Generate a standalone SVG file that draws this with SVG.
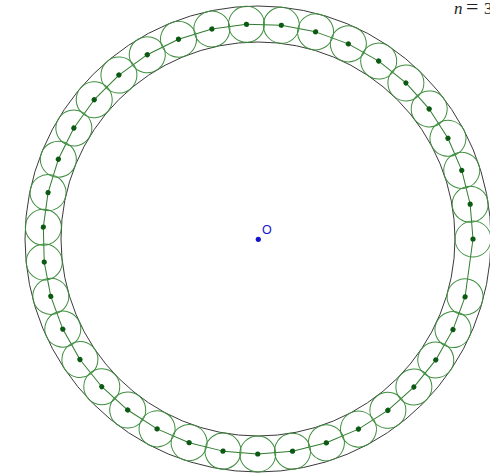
<svg xmlns="http://www.w3.org/2000/svg" width="490" height="474" viewBox="0 0 490 474">
<style>
.bound{fill:none;stroke:#3a3a3a;stroke-width:1}
.ring{fill:none;stroke:#3f8f3f;stroke-width:1}
.dot{fill:#0b5a12;stroke:none}
.edge{stroke:#2f7a2f;stroke-width:1;fill:none}
.lbl{font-family:"Liberation Serif",serif;font-size:17px;fill:#222}
</style>
<rect width="490" height="474" fill="#ffffff"/>
<g id="boundaries">
<circle class="bound" cx="258" cy="239" r="233"/>
<circle class="bound" cx="258" cy="239" r="197"/>
</g>
<g id="connectors">
<line class="edge" x1="473" y1="239" x2="470.17" y2="204.23" transform="rotate(0 258 239)"/>
<line class="edge" x1="473" y1="239" x2="470.17" y2="204.23" transform="rotate(-9.308 258 239)"/>
<line class="edge" x1="473" y1="239" x2="470.17" y2="204.23" transform="rotate(-18.616 258 239)"/>
<line class="edge" x1="473" y1="239" x2="470.17" y2="204.23" transform="rotate(-27.924 258 239)"/>
<line class="edge" x1="473" y1="239" x2="470.17" y2="204.23" transform="rotate(-37.232 258 239)"/>
<line class="edge" x1="473" y1="239" x2="470.17" y2="204.23" transform="rotate(-46.54 258 239)"/>
<line class="edge" x1="473" y1="239" x2="470.17" y2="204.23" transform="rotate(-55.848 258 239)"/>
<line class="edge" x1="473" y1="239" x2="470.17" y2="204.23" transform="rotate(-65.156 258 239)"/>
<line class="edge" x1="473" y1="239" x2="470.17" y2="204.23" transform="rotate(-74.464 258 239)"/>
<line class="edge" x1="473" y1="239" x2="470.17" y2="204.23" transform="rotate(-83.772 258 239)"/>
<line class="edge" x1="473" y1="239" x2="470.17" y2="204.23" transform="rotate(-93.08 258 239)"/>
<line class="edge" x1="473" y1="239" x2="470.17" y2="204.23" transform="rotate(-102.388 258 239)"/>
<line class="edge" x1="473" y1="239" x2="470.17" y2="204.23" transform="rotate(-111.696 258 239)"/>
<line class="edge" x1="473" y1="239" x2="470.17" y2="204.23" transform="rotate(-121.004 258 239)"/>
<line class="edge" x1="473" y1="239" x2="470.17" y2="204.23" transform="rotate(-130.312 258 239)"/>
<line class="edge" x1="473" y1="239" x2="470.17" y2="204.23" transform="rotate(-139.62 258 239)"/>
<line class="edge" x1="473" y1="239" x2="470.17" y2="204.23" transform="rotate(-148.928 258 239)"/>
<line class="edge" x1="473" y1="239" x2="470.17" y2="204.23" transform="rotate(-158.236 258 239)"/>
<line class="edge" x1="473" y1="239" x2="470.17" y2="204.23" transform="rotate(-167.544 258 239)"/>
<line class="edge" x1="473" y1="239" x2="470.17" y2="204.23" transform="rotate(-176.852 258 239)"/>
<line class="edge" x1="473" y1="239" x2="470.17" y2="204.23" transform="rotate(-186.16 258 239)"/>
<line class="edge" x1="473" y1="239" x2="470.17" y2="204.23" transform="rotate(-195.468 258 239)"/>
<line class="edge" x1="473" y1="239" x2="470.17" y2="204.23" transform="rotate(-204.776 258 239)"/>
<line class="edge" x1="473" y1="239" x2="470.17" y2="204.23" transform="rotate(-214.084 258 239)"/>
<line class="edge" x1="473" y1="239" x2="470.17" y2="204.23" transform="rotate(-223.392 258 239)"/>
<line class="edge" x1="473" y1="239" x2="470.17" y2="204.23" transform="rotate(-232.7 258 239)"/>
<line class="edge" x1="473" y1="239" x2="470.17" y2="204.23" transform="rotate(-242.008 258 239)"/>
<line class="edge" x1="473" y1="239" x2="470.17" y2="204.23" transform="rotate(-251.316 258 239)"/>
<line class="edge" x1="473" y1="239" x2="470.17" y2="204.23" transform="rotate(-260.624 258 239)"/>
<line class="edge" x1="473" y1="239" x2="470.17" y2="204.23" transform="rotate(-269.932 258 239)"/>
<line class="edge" x1="473" y1="239" x2="470.17" y2="204.23" transform="rotate(-279.24 258 239)"/>
<line class="edge" x1="473" y1="239" x2="470.17" y2="204.23" transform="rotate(-288.548 258 239)"/>
<line class="edge" x1="473" y1="239" x2="470.17" y2="204.23" transform="rotate(-297.856 258 239)"/>
<line class="edge" x1="473" y1="239" x2="470.17" y2="204.23" transform="rotate(-307.164 258 239)"/>
<line class="edge" x1="473" y1="239" x2="470.17" y2="204.23" transform="rotate(-316.472 258 239)"/>
<line class="edge" x1="473" y1="239" x2="470.17" y2="204.23" transform="rotate(-325.78 258 239)"/>
<line class="edge" x1="473" y1="239" x2="470.17" y2="204.23" transform="rotate(-335.088 258 239)"/>
<line class="edge" x1="473" y1="239" x2="465.08" y2="296.83"/>
</g>
<g id="c0" transform="rotate(0 258 239)"><circle class="ring" cx="473" cy="239" r="18"/><circle class="dot" cx="473" cy="239" r="2.6"/></g>
<g id="c1" transform="rotate(-9.308 258 239)"><circle class="ring" cx="473" cy="239" r="18"/><circle class="dot" cx="473" cy="239" r="2.6"/></g>
<g id="c2" transform="rotate(-18.616 258 239)"><circle class="ring" cx="473" cy="239" r="18"/><circle class="dot" cx="473" cy="239" r="2.6"/></g>
<g id="c3" transform="rotate(-27.924 258 239)"><circle class="ring" cx="473" cy="239" r="18"/><circle class="dot" cx="473" cy="239" r="2.6"/></g>
<g id="c4" transform="rotate(-37.232 258 239)"><circle class="ring" cx="473" cy="239" r="18"/><circle class="dot" cx="473" cy="239" r="2.6"/></g>
<g id="c5" transform="rotate(-46.54 258 239)"><circle class="ring" cx="473" cy="239" r="18"/><circle class="dot" cx="473" cy="239" r="2.6"/></g>
<g id="c6" transform="rotate(-55.848 258 239)"><circle class="ring" cx="473" cy="239" r="18"/><circle class="dot" cx="473" cy="239" r="2.6"/></g>
<g id="c7" transform="rotate(-65.156 258 239)"><circle class="ring" cx="473" cy="239" r="18"/><circle class="dot" cx="473" cy="239" r="2.6"/></g>
<g id="c8" transform="rotate(-74.464 258 239)"><circle class="ring" cx="473" cy="239" r="18"/><circle class="dot" cx="473" cy="239" r="2.6"/></g>
<g id="c9" transform="rotate(-83.772 258 239)"><circle class="ring" cx="473" cy="239" r="18"/><circle class="dot" cx="473" cy="239" r="2.6"/></g>
<g id="c10" transform="rotate(-93.08 258 239)"><circle class="ring" cx="473" cy="239" r="18"/><circle class="dot" cx="473" cy="239" r="2.6"/></g>
<g id="c11" transform="rotate(-102.388 258 239)"><circle class="ring" cx="473" cy="239" r="18"/><circle class="dot" cx="473" cy="239" r="2.6"/></g>
<g id="c12" transform="rotate(-111.696 258 239)"><circle class="ring" cx="473" cy="239" r="18"/><circle class="dot" cx="473" cy="239" r="2.6"/></g>
<g id="c13" transform="rotate(-121.004 258 239)"><circle class="ring" cx="473" cy="239" r="18"/><circle class="dot" cx="473" cy="239" r="2.6"/></g>
<g id="c14" transform="rotate(-130.312 258 239)"><circle class="ring" cx="473" cy="239" r="18"/><circle class="dot" cx="473" cy="239" r="2.6"/></g>
<g id="c15" transform="rotate(-139.62 258 239)"><circle class="ring" cx="473" cy="239" r="18"/><circle class="dot" cx="473" cy="239" r="2.6"/></g>
<g id="c16" transform="rotate(-148.928 258 239)"><circle class="ring" cx="473" cy="239" r="18"/><circle class="dot" cx="473" cy="239" r="2.6"/></g>
<g id="c17" transform="rotate(-158.236 258 239)"><circle class="ring" cx="473" cy="239" r="18"/><circle class="dot" cx="473" cy="239" r="2.6"/></g>
<g id="c18" transform="rotate(-167.544 258 239)"><circle class="ring" cx="473" cy="239" r="18"/><circle class="dot" cx="473" cy="239" r="2.6"/></g>
<g id="c19" transform="rotate(-176.852 258 239)"><circle class="ring" cx="473" cy="239" r="18"/><circle class="dot" cx="473" cy="239" r="2.6"/></g>
<g id="c20" transform="rotate(-186.16 258 239)"><circle class="ring" cx="473" cy="239" r="18"/><circle class="dot" cx="473" cy="239" r="2.6"/></g>
<g id="c21" transform="rotate(-195.468 258 239)"><circle class="ring" cx="473" cy="239" r="18"/><circle class="dot" cx="473" cy="239" r="2.6"/></g>
<g id="c22" transform="rotate(-204.776 258 239)"><circle class="ring" cx="473" cy="239" r="18"/><circle class="dot" cx="473" cy="239" r="2.6"/></g>
<g id="c23" transform="rotate(-214.084 258 239)"><circle class="ring" cx="473" cy="239" r="18"/><circle class="dot" cx="473" cy="239" r="2.6"/></g>
<g id="c24" transform="rotate(-223.392 258 239)"><circle class="ring" cx="473" cy="239" r="18"/><circle class="dot" cx="473" cy="239" r="2.6"/></g>
<g id="c25" transform="rotate(-232.7 258 239)"><circle class="ring" cx="473" cy="239" r="18"/><circle class="dot" cx="473" cy="239" r="2.6"/></g>
<g id="c26" transform="rotate(-242.008 258 239)"><circle class="ring" cx="473" cy="239" r="18"/><circle class="dot" cx="473" cy="239" r="2.6"/></g>
<g id="c27" transform="rotate(-251.316 258 239)"><circle class="ring" cx="473" cy="239" r="18"/><circle class="dot" cx="473" cy="239" r="2.6"/></g>
<g id="c28" transform="rotate(-260.624 258 239)"><circle class="ring" cx="473" cy="239" r="18"/><circle class="dot" cx="473" cy="239" r="2.6"/></g>
<g id="c29" transform="rotate(-269.932 258 239)"><circle class="ring" cx="473" cy="239" r="18"/><circle class="dot" cx="473" cy="239" r="2.6"/></g>
<g id="c30" transform="rotate(-279.24 258 239)"><circle class="ring" cx="473" cy="239" r="18"/><circle class="dot" cx="473" cy="239" r="2.6"/></g>
<g id="c31" transform="rotate(-288.548 258 239)"><circle class="ring" cx="473" cy="239" r="18"/><circle class="dot" cx="473" cy="239" r="2.6"/></g>
<g id="c32" transform="rotate(-297.856 258 239)"><circle class="ring" cx="473" cy="239" r="18"/><circle class="dot" cx="473" cy="239" r="2.6"/></g>
<g id="c33" transform="rotate(-307.164 258 239)"><circle class="ring" cx="473" cy="239" r="18"/><circle class="dot" cx="473" cy="239" r="2.6"/></g>
<g id="c34" transform="rotate(-316.472 258 239)"><circle class="ring" cx="473" cy="239" r="18"/><circle class="dot" cx="473" cy="239" r="2.6"/></g>
<g id="c35" transform="rotate(-325.78 258 239)"><circle class="ring" cx="473" cy="239" r="18"/><circle class="dot" cx="473" cy="239" r="2.6"/></g>
<g id="c36" transform="rotate(-335.088 258 239)"><circle class="ring" cx="473" cy="239" r="18"/><circle class="dot" cx="473" cy="239" r="2.6"/></g>
<g id="c37" transform="rotate(-344.396 258 239)"><circle class="ring" cx="473" cy="239" r="18"/><circle class="dot" cx="473" cy="239" r="2.6"/></g>
<g id="O">
<circle cx="258.3" cy="239.3" r="2.6" fill="#1414c8"/>
<text x="262" y="234" font-family="'Liberation Sans', Arial, sans-serif" font-size="12.5" fill="#1414c8">O</text>
</g>
<text class="lbl" y="14"><tspan x="454" font-style="italic">n</tspan><tspan x="466" font-size="22">=</tspan><tspan x="484">3</tspan></text>
</svg>
